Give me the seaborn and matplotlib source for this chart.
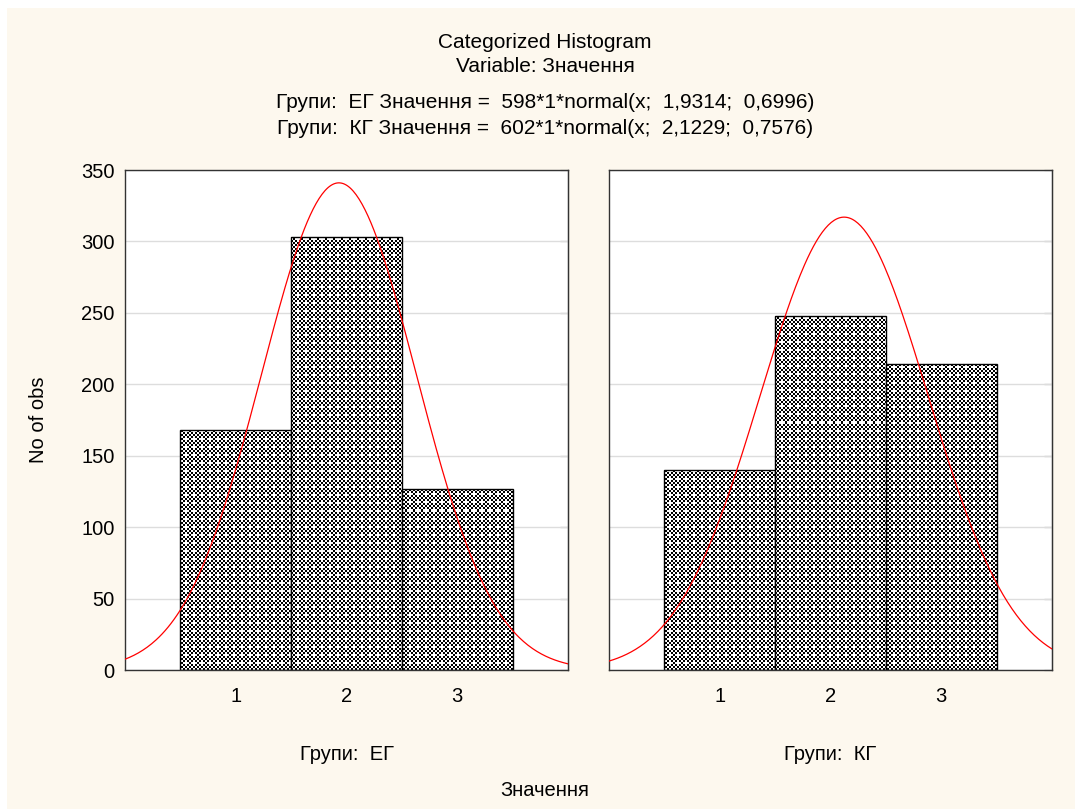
import numpy as np
import pandas as pd
import seaborn as sns
import matplotlib.pyplot as plt
from matplotlib.patches import Rectangle

# Counts per value
values = [1, 2, 3]
counts_eg = [168, 303, 127]
counts_kg = [140, 248, 214]
group_names = ['ЕГ', 'КГ']
# fitted normal parameters from the subtitle
fit_n = [598, 602]
fit_mean = [1.9314, 2.1229]
fit_sd = [0.6996, 0.7576]
y_ticks = [0, 50, 100, 150, 200, 250, 300, 350]

sns.set_style('white')
plt.rcParams['font.family'] = ['Liberation Sans', 'DejaVu Sans']
plt.rcParams['text.color'] = 'black'

W, H = 1075, 809
fig = plt.figure(figsize=(W / 100, H / 100), dpi=100)
fig.patch.set_facecolor('white')
fig.patches.append(Rectangle((7 / W, 0), 1, 1 - 8 / H, transform=fig.transFigure,
                             facecolor='#fdf8ee', edgecolor='none', zorder=-10))

# checkered tile for the bar fill (2x2 px cells)
cells = np.array([[1, 0, 1, 0],
                  [0, 1, 0, 1],
                  [1, 0, 0, 0],
                  [0, 1, 0, 1]])
tile = np.kron(cells, np.ones((2, 2)))

ax_w, ax_h = 443, 500
lefts = [125, 609]
bottom = 809 - 670
fs = 14.5

df = pd.DataFrame({'value': values * 2,
                   'count': counts_eg + counts_kg,
                   'group': [group_names[0]] * 3 + [group_names[1]] * 3})

for i, g in enumerate(group_names):
    ax = fig.add_axes([lefts[i] / W, bottom / H, ax_w / W, ax_h / H])
    ax.set_facecolor('white')
    sub = df[df['group'] == g]
    sns.histplot(data=sub, x='value', weights='count', discrete=True, ax=ax,
                 color='white', edgecolor='black', linewidth=1, alpha=1, zorder=2)
    ax.set_xlim(0, 4)
    ax.set_ylim(0, 350)

    # checker pattern image, clipped to each bar
    reps_y = ax_h // tile.shape[0] + 2
    reps_x = ax_w // tile.shape[1] + 2
    big = np.tile(tile, (reps_y, reps_x))[:ax_h, :ax_w]
    rgba = np.zeros((ax_h, ax_w, 4))
    rgba[..., 3] = big
    for p in ax.patches:
        im = ax.imshow(rgba, extent=(0, 4, 0, 350), aspect='auto',
                       interpolation='nearest', zorder=2.5)
        im.set_clip_path(p)
    ax.set_xlim(0, 4)
    ax.set_ylim(0, 350)

    # normal curve
    xs = np.linspace(0, 4, 300)
    ys = fit_n[i] * 1 * np.exp(-0.5 * ((xs - fit_mean[i]) / fit_sd[i]) ** 2) / (fit_sd[i] * np.sqrt(2 * np.pi))
    sns.lineplot(x=xs, y=ys, ax=ax, color='red', linewidth=0.9, zorder=3)

    ax.set_yticks(y_ticks)
    ax.set_xticks(values)
    ax.grid(axis='y', color='#dddddd', linewidth=1)
    ax.set_axisbelow(True)
    for s in ax.spines.values():
        s.set_color('#333333')
        s.set_linewidth(1)
    ax.tick_params(axis='x', direction='in', length=3, labelsize=fs, pad=12, colors='#333333', labelcolor='black')
    ax.tick_params(axis='y', direction='out', length=4, labelsize=fs, colors='#333333', labelcolor='black')
    sec = ax.secondary_yaxis('right')
    sec.set_yticks(y_ticks)
    sec.tick_params(direction='in', length=6, colors='#333333', labelright=False)
    sec.spines['right'].set_color('#333333')
    if i == 1:
        ax.set_yticklabels([])
    ax.set_xlabel('')
    ax.set_ylabel('')
    ax.text(0.5, -0.17, f'Групи:  {g}', transform=ax.transAxes, ha='center', va='center', fontsize=fs)

fig.text(545 / W, 1 - 42 / H, 'Categorized Histogram', ha='center', va='center', fontsize=15)
fig.text(545 / W, 1 - 67 / H, 'Variable: Значення', ha='center', va='center', fontsize=15)
fig.text(545 / W, 1 - 103 / H, 'Групи:  ЕГ Значення =  598*1*normal(x;  1,9314;  0,6996)',
         ha='center', va='center', fontsize=15)
fig.text(545 / W, 1 - 129 / H, 'Групи:  КГ Значення =  602*1*normal(x;  2,1229;  0,7576)',
         ha='center', va='center', fontsize=15)
fig.text(545 / W, 1 - 790 / H, 'Значення', ha='center', va='center', fontsize=fs)
fig.text(38 / W, 1 - 420 / H, 'No of obs', ha='center', va='center', rotation=90, fontsize=fs)

fig.savefig('out.png', dpi=100, facecolor=fig.get_facecolor())
